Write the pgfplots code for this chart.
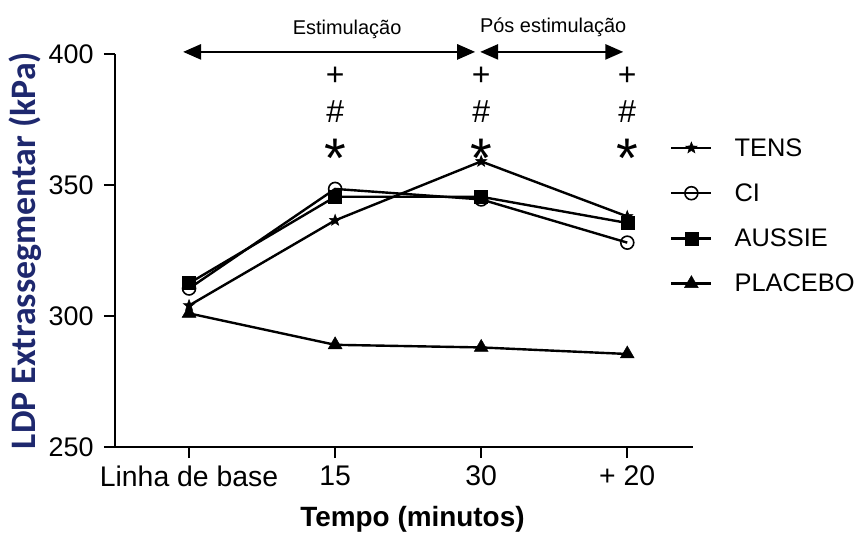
\documentclass[border=0pt]{standalone}
\usepackage{fontspec}
\setmainfont{Liberation Sans}
\newfontfamily\carlito{Carlito}
\usepackage{pgfplots}
\pgfplotsset{compat=1.18}
\usetikzlibrary{arrows.meta}
\definecolor{navy}{RGB}{30,40,110}

% filled five-pointed star
\pgfdeclareplotmark{fivestar}{%
  \pgfpathmoveto{\pgfpointpolar{90}{\pgfplotmarksize}}%
  \pgfpathlineto{\pgfpointpolar{126}{0.42\pgfplotmarksize}}%
  \pgfpathlineto{\pgfpointpolar{162}{\pgfplotmarksize}}%
  \pgfpathlineto{\pgfpointpolar{198}{0.42\pgfplotmarksize}}%
  \pgfpathlineto{\pgfpointpolar{234}{\pgfplotmarksize}}%
  \pgfpathlineto{\pgfpointpolar{270}{0.42\pgfplotmarksize}}%
  \pgfpathlineto{\pgfpointpolar{306}{\pgfplotmarksize}}%
  \pgfpathlineto{\pgfpointpolar{342}{0.42\pgfplotmarksize}}%
  \pgfpathlineto{\pgfpointpolar{18}{\pgfplotmarksize}}%
  \pgfpathlineto{\pgfpointpolar{54}{0.42\pgfplotmarksize}}%
  \pgfpathclose
  \pgfusepathqfillstroke
}

\begin{document}
\begin{tikzpicture}
\useasboundingbox (0,0) rectangle (864bp,533bp);
\begin{axis}[
    at={(115bp,86bp)}, anchor=south west,
    scale only axis,
    width=578bp, height=393bp,
    xmin=-0.507, xmax=3.45,
    ymin=250, ymax=400,
    axis x line*=bottom, axis y line*=left,
    axis line style={line width=2.6bp},
    tick align=outside,
    major tick length=11bp,
    tick style={line width=2.2bp, black},
    xtick={0,1,2,3},
    xticklabels={Linha de base,15,30,+ 20},
    ytick={250,300,350,400},
    minor tick num=0,
    /pgf/number format/assume math mode=true,
    xticklabel style={font=\fontsize{28.5}{30}\selectfont, yshift=-4bp},
    yticklabel style={font=\fontsize{27}{29}\selectfont, xshift=-7bp},
    xlabel={Tempo (minutos)},
    xlabel style={font=\bfseries\fontsize{28}{30}\selectfont,
        at={(axis description cs:0.5147,-0.203)}, anchor=base},
    ylabel={\carlito\bfseries LDP Extrassegmentar (kPa)},
    ylabel style={font=\fontsize{36}{38}\selectfont, text=navy,
        at={(axis description cs:-0.155,0.5)}, anchor=center},
    clip=false,
    every axis plot/.append style={line width=2.4bp, black},
    legend style={draw=none, fill=none,
        at={(axis description cs:0.955,0.796)}, anchor=north west,
        font=\fontsize{25.5}{27}\selectfont,
        row sep=22bp,
        nodes={inner sep=2bp},
        /tikz/every odd column/.append style={column sep=20bp}},
    legend cell align=left,
    legend image code/.code={%
        \draw[mark repeat=2,mark phase=2,#1]
        plot coordinates {(0bp,0bp) (20bp,0bp) (40bp,0bp)};},
]
\addplot[mark=fivestar, mark size=6bp, mark options={solid, line width=0.5bp}]
    coordinates {(0,304) (1,336.5) (2,359) (3,338)};
\addlegendentry{TENS}
\addplot[mark=o, mark size=6.5bp, mark options={fill=white, line width=1.6bp}]
    coordinates {(0,310.5) (1,348.5) (2,344.5) (3,328)};
\addlegendentry{CI}
\addplot[mark=square*, mark size=6.5bp, mark options={line width=0.5bp}]
    coordinates {(0,312.5) (1,345.5) (2,345.5) (3,335.5)};
\addlegendentry{AUSSIE}
\addplot[mark=triangle*, mark size=8bp, mark options={line width=0.5bp}]
    coordinates {(0,301) (1,289) (2,288) (3,285.5)};
\addlegendentry{PLACEBO}

% significance markers
\pgfplotsinvokeforeach{1,2,3}{
  \node[font=\fontsize{32}{34}\selectfont] at (axis cs:#1,391.3) {+};
  \node[font=\fontsize{32}{34}\selectfont] at (axis cs:#1,378) {\#};
  \node[font=\fontsize{56}{58}\selectfont, anchor=base] at (axis cs:#1,353) {*};
}
% period arrows
\draw[line width=2.6bp, {Triangle[length=18bp,width=15bp]}-{Triangle[length=18bp,width=15bp]}]
    (axis cs:-0.041,400.8) -- (axis cs:1.959,400.8);
\draw[line width=2.6bp, {Triangle[length=18bp,width=15bp]}-{Triangle[length=18bp,width=15bp]}]
    (axis cs:1.993,400.8) -- (axis cs:2.973,400.8);
\node[font=\fontsize{20}{22}\selectfont] at (axis cs:1.082,409.2) {Estimulação};
\node[font=\fontsize{20}{22}\selectfont] at (axis cs:2.493,410.3) {Pós estimulação};
\end{axis}
\end{tikzpicture}
\end{document}
